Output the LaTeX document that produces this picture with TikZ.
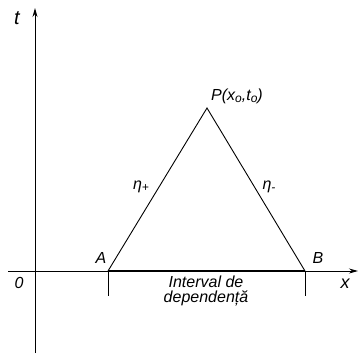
\documentclass[tikz,border=0pt]{standalone}
\usepackage{fontspec}
\setsansfont{Liberation Sans}
\usepackage{tikz}
\usetikzlibrary{arrows.meta, positioning}
\newcommand{\lbl}{\sffamily\itshape}
\newcommand{\lowsub}[1]{\raisebox{-2pt}{\fontsize{12}{12}\selectfont #1}}

\begin{document}
\begin{tikzpicture}[x=1pt, y=-1pt, >={Stealth[length=9pt,width=5pt]}, line width=0.9pt,
    txt/.style={font=\lbl\fontsize{16}{16}\selectfont, inner sep=1pt}]
  \useasboundingbox (0,0) rectangle (361,353);
  % axes
  \coordinate (o) at (35,271);
  \coordinate (xl) at (8,271);
  \coordinate (xr) at (358,271);
  \coordinate (tb) at (35,353);
  \coordinate (tt) at (35,8);
  \draw[->] (xl) -- (xr);
  \draw[->] (tb) -- (tt);
  % characteristic triangle
  \coordinate (A) at (108,271);
  \coordinate (B) at (305,271);
  \coordinate (P) at (207,108);
  \draw (A) -- (P) -- (B);
  \draw[line width=2.4pt] (A) -- (B);
  \draw (A) -- ++(0,25);
  \draw (B) -- ++(0,25);
  % labels
  \node[txt, font=\lbl\fontsize{20}{20}\selectfont] (tlab) at (17,18) {t};
  \node[txt] (olab) at (19,283) {0};
  \node[txt, font=\lbl\fontsize{18}{18}\selectfont] (xlab) at (345,284) {x};
  \node[txt] (alab) at (101,258) {A};
  \node[txt] (blab) at (318,258) {B};
  \node[txt] (plab) at (237,96) {P(x\lowsub{o},t\lowsub{o})};
  \node[txt] (eplus) at (141,187) {η\lowsub{+}};
  \node[txt] (eminus) at (269,187) {η\lowsub{-}};
  \node[txt, align=center] (ival) at (206,291) {Interval de\\[-1pt]dependență};
\end{tikzpicture}
\end{document}
